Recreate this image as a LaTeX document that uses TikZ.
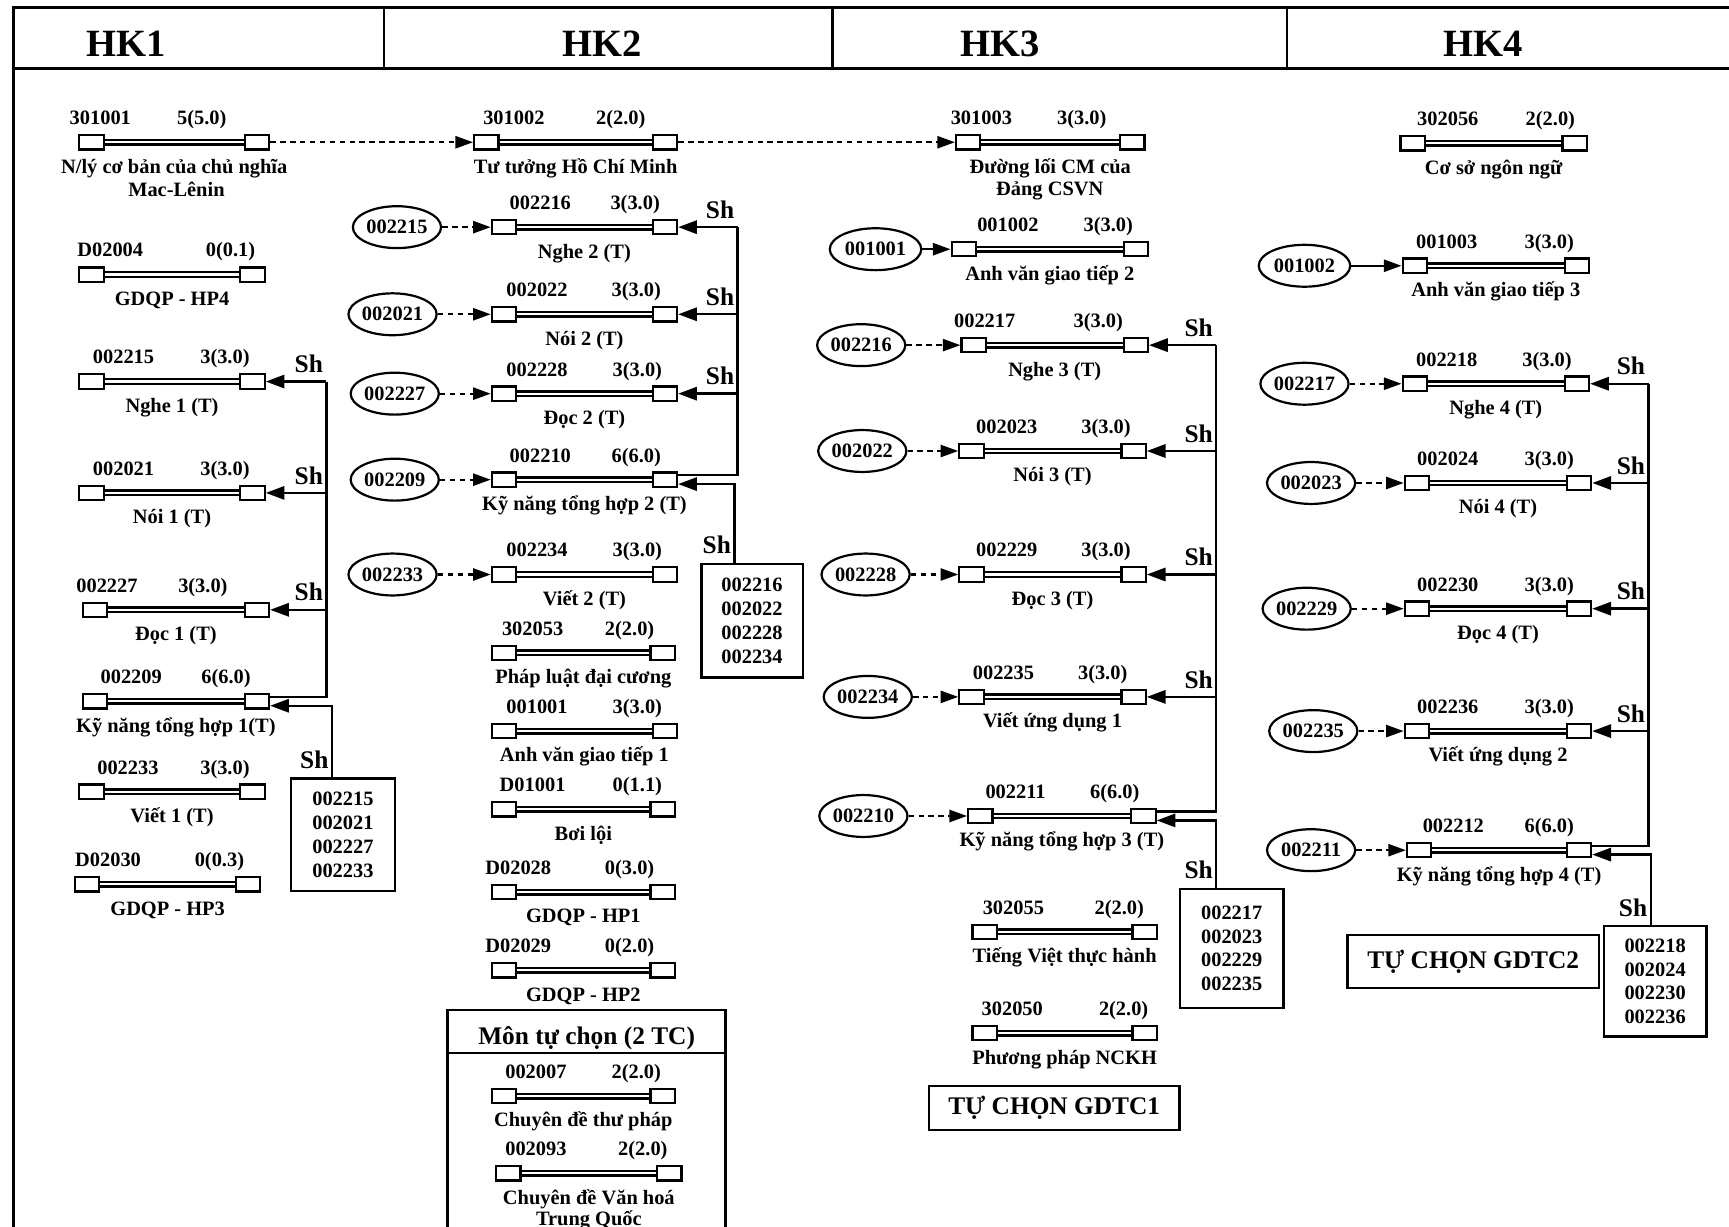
\documentclass[tikz,border=0pt]{standalone}
\usepackage{fontspec}
\setmainfont{Liberation Serif}
\usetikzlibrary{arrows.meta,shapes.geometric}

\newcommand{\ftxt}{\fontsize{18.5}{21}\selectfont\bfseries}
% mon hoc: ten, x trai, x phai, y, ma, x ma, tin chi, x tin chi, ten mon
\newcommand{\mon}[9]{%
  \node[hop] (#1-a) at (#2+11,#4) {};
  \node[hop] (#1-b) at (#3-11,#4) {};
  \draw[dline] (#1-a) -- (#1-b);
  \node[txt] (#1-k) at (#6,#4-16) {#5};
  \node[txt] (#1-c) at (#8,#4-16) {#7};
  \node[txt] (#1-t) at ({(#2+#3)/2},#4+28) {#9};
}

\begin{document}
\begin{tikzpicture}[x=1pt,y=-1pt,
    hop/.style={draw,line width=2pt,minimum width=22pt,minimum height=13pt,inner sep=0pt,fill=white},
    dline/.style={double,double distance=2pt,line width=2.1pt},
    txt/.style={font=\ftxt,anchor=base,inner sep=0pt},
    oval/.style={ellipse,draw,line width=2pt,minimum width=80pt,minimum height=38pt,inner sep=0pt,font=\ftxt},
    dasharr/.style={line width=2pt,dash pattern=on 5pt off 4pt,-{Triangle[length=16pt,width=11pt]}},
    solarr/.style={line width=2pt,-{Triangle[length=16pt,width=11pt]}},
    sharr/.style={line width=2.2pt,-{Triangle[length=17pt,width=12pt]}},
    shline/.style={line width=2.2pt},
    sh/.style={font=\fontsize{23}{25}\selectfont\bfseries,anchor=base east,inner sep=0pt,xshift=-3pt,yshift=8pt},
    shbox/.style={draw,line width=2.2pt,align=center,inner sep=0pt,font=\fontsize{18.5}{21.6}\selectfont\bfseries},
    frame/.style={line width=2.6pt},
    hk/.style={font=\fontsize{35}{40}\selectfont\bfseries,inner sep=0pt},
    chon/.style={draw,line width=2.2pt,font=\fontsize{23}{26}\selectfont\bfseries}]
  \useasboundingbox (0,0) rectangle (1568,1112);
  \clip (0,0) rectangle (1568,1112);

  % khung
  \draw[frame] (12,1130) -- (12,7) -- (1590,7);
  \draw[frame] (12,62) -- (1590,62);
  \draw[line width=2.2pt] (348,7) -- (348,62);
  \draw[line width=2.2pt] (755,7) -- (755,62);
  \draw[line width=2.2pt] (1167,7) -- (1167,62);
  \node[hk] (hk1) at (114,40) {HK1};
  \node[hk] (hk2) at (546,40) {HK2};
  \node[hk] (hk3) at (907,40) {HK3};
  \node[hk] (hk4) at (1345,40) {HK4};

  % HK1
  \mon{c301001}{72}{244}{129}{301001}{91}{5(5.0)}{183}{N/lý cơ bản của chủ nghĩa}
  \node[txt] (c301001-t2) at (160,178) {Mac-Lênin};
  \mon{cD02004}{72}{240}{249}{D02004}{100}{0(0.1)}{209}{GDQP - HP4}
  \mon{c002215}{72}{240}{346}{002215}{112}{3(3.0)}{204}{Nghe 1 (T)}
  \mon{c002021}{72}{240}{447}{002021}{112}{3(3.0)}{204}{Nói 1 (T)}
  \mon{c002227}{75}{244}{553}{002227}{97}{3(3.0)}{184}{Đọc 1 (T)}
  \mon{c002209}{75}{244}{636}{002209}{119}{6(6.0)}{205}{Kỹ năng tổng hợp 1(T)}
  \mon{c002233}{72}{240}{718}{002233}{116}{3(3.0)}{204}{Viết 1 (T)}
  \mon{cD02030}{68}{236}{802}{D02030}{98}{0(0.3)}{199}{GDQP - HP3}

  % HK2
  \mon{c301002}{430}{614}{129}{301002}{466}{2(2.0)}{563}{Tư tưởng Hồ Chí Minh}
  \mon{c002216}{446}{614}{206}{002216}{490}{3(3.0)}{576}{Nghe 2 (T)}
  \mon{c002022}{446}{614}{285}{002022}{487}{3(3.0)}{577}{Nói 2 (T)}
  \mon{c002228}{446}{614}{357}{002228}{487}{3(3.0)}{578}{Đọc 2 (T)}
  \mon{c002210}{446}{614}{435}{002210}{490}{6(6.0)}{577}{Kỹ năng tổng hợp 2 (T)}
  \mon{c002234}{446}{614}{521}{002234}{487}{3(3.0)}{578}{Viết 2 (T)}
  \mon{c302053}{446}{612}{592}{302053}{483}{2(2.0)}{571}{Pháp luật đại cương}
  \mon{c001001}{446}{614}{663}{001001}{487}{3(3.0)}{578}{Anh văn giao tiếp 1}
  \mon{cD01001}{446}{612}{734}{D01001}{483}{0(1.1)}{578}{Bơi lội}
  \mon{cD02028}{446}{612}{809}{D02028}{470}{0(3.0)}{571}{GDQP - HP1}
  \mon{cD02029}{446}{612}{880}{D02029}{470}{0(2.0)}{571}{GDQP - HP2}
  % mon tu chon
  \draw[line width=2.2pt] (406,1130) |- (658,916) -- (658,1130);
  \draw[line width=2.2pt] (406,955) -- (658,955);
  \node[txt,font=\fontsize{23}{26}\selectfont\bfseries] (mtc) at (532,947) {Môn tự chọn (2 TC)};
  \mon{c002007}{446}{612}{994}{002007}{486}{2(2.0)}{577}{Chuyên đề thư pháp}
  \mon{c002093}{450}{618}{1064}{002093}{486}{2(2.0)}{583}{Chuyên đề Văn hoá}
  \node[txt] (c002093-t2) at (534,1111) {Trung Quốc};

  \node[oval] (p002215) at (360,206) {002215};
  \node[oval] (p002021) at (356,285) {002021};
  \node[oval] (p002227) at (358,357) {002227};
  \node[oval] (p002209) at (358,435) {002209};
  \node[oval] (p002233) at (356,521) {002233};

  % HK3
  \mon{c301003}{867}{1038}{129}{301003}{890}{3(3.0)}{981}{Đường lối CM của}
  \node[txt] (c301003-t2) at (952,177) {Đảng CSVN};
  \mon{c001002}{863}{1041}{226}{001002}{914}{3(3.0)}{1005}{Anh văn giao tiếp 2}
  \mon{c002217}{872}{1041}{313}{002217}{893}{3(3.0)}{996}{Nghe 3 (T)}
  \mon{c002023}{870}{1039}{409}{002023}{913}{3(3.0)}{1003}{Nói 3 (T)}
  \mon{c002229}{870}{1039}{521}{002229}{913}{3(3.0)}{1003}{Đọc 3 (T)}
  \mon{c002235}{870}{1039}{632}{002235}{910}{3(3.0)}{1000}{Viết ứng dụng 1}
  \mon{c002211}{878}{1048}{740}{002211}{921}{6(6.0)}{1011}{Kỹ năng tổng hợp 3 (T)}
  \mon{c302055}{882}{1049}{845}{302055}{919}{2(2.0)}{1015}{Tiếng Việt thực hành}
  \mon{c302050}{882}{1049}{937}{302050}{918}{2(2.0)}{1019}{Phương pháp NCKH}
  \node[chon,minimum width=227pt,minimum height=40pt] (gdtc1) at (956,1005) {TỰ CHỌN GDTC1};

  \node[oval,minimum width=83pt] (p001001) at (794,226) {001001};
  \node[oval] (p002216) at (781,313) {002216};
  \node[oval] (p002022) at (782,409) {002022};
  \node[oval] (p002228) at (785,521) {002228};
  \node[oval] (p002234) at (787,632) {002234};
  \node[oval] (p002210) at (783,740) {002210};

  % HK4
  \mon{c302056}{1270}{1439}{130}{302056}{1313}{2(2.0)}{1406}{Cơ sở ngôn ngữ}
  \mon{c001003}{1272}{1441}{241}{001003}{1312}{3(3.0)}{1405}{Anh văn giao tiếp 3}
  \mon{c002218}{1272}{1441}{348}{002218}{1312}{3(3.0)}{1403}{Nghe 4 (T)}
  \mon{c002024}{1274}{1443}{438}{002024}{1313}{3(3.0)}{1405}{Nói 4 (T)}
  \mon{c002230}{1274}{1443}{552}{002230}{1313}{3(3.0)}{1405}{Đọc 4 (T)}
  \mon{c002236}{1274}{1443}{663}{002236}{1313}{3(3.0)}{1405}{Viết ứng dụng 2}
  \mon{c002212}{1276}{1443}{771}{002212}{1318}{6(6.0)}{1405}{Kỹ năng tổng hợp 4 (T)}
  \node[chon,minimum width=228pt,minimum height=48pt] (gdtc2) at (1336,872) {TỰ CHỌN GDTC2};

  \node[oval,minimum width=83pt] (p001002) at (1183,241) {001002};
  \node[oval] (p002217) at (1183,348) {002217};
  \node[oval] (p002023) at (1189,438) {002023};
  \node[oval] (p002229) at (1185,552) {002229};
  \node[oval] (p002235) at (1191,663) {002235};
  \node[oval] (p002211) at (1189,771) {002211};

  % mui ten tien quyet
  \draw[dasharr] (c301001-b) -- (c301002-a);
  \draw[dasharr] (c301002-b) -- (c301003-a);
  \draw[dasharr] (p002215) -- (c002216-a);
  \draw[dasharr] (p002021) -- (c002022-a);
  \draw[dasharr] (p002227) -- (c002228-a);
  \draw[dasharr] (p002209) -- (c002210-a);
  \draw[dasharr] (p002233) -- (c002234-a);
  \draw[solarr] (p001001) -- (c001002-a);
  \draw[dasharr] (p002216) -- (c002217-a);
  \draw[dasharr] (p002022) -- (c002023-a);
  \draw[dasharr] (p002228) -- (c002229-a);
  \draw[dasharr] (p002234) -- (c002235-a);
  \draw[dasharr] (p002210) -- (c002211-a);
  \draw[solarr] (p001002) -- (c001003-a);
  \draw[dasharr] (p002217) -- (c002218-a);
  \draw[dasharr] (p002023) -- (c002024-a);
  \draw[dasharr] (p002229) -- (c002230-a);
  \draw[dasharr] (p002235) -- (c002236-a);
  \draw[dasharr] (p002211) -- (c002212-a);

  % Sh HK1
  \coordinate (sh1) at (296,0);
  \draw[shline] (sh1 |- c002215-b) |- ([yshift=4pt]c002209-b.east);
  \foreach \m in {c002215,c002021,c002227}{
    \draw[sharr] (sh1 |- \m-b) -- (\m-b);
    \node[sh] (\m-sh) at (sh1 |- \m-b) {Sh};
  }
  \node[shbox,minimum width=94pt,minimum height=102pt] (sb1) at (311,757) {002215\\002021\\002227\\002233};
  \draw[sharr] ([xshift=-10pt]sb1.north) |- ([yshift=-4pt]c002209-b.east);
  \node[sh] (sb1-sh) at ([xshift=-10pt]sb1.north) {Sh};

  % Sh HK2
  \coordinate (sh2) at (669,0);
  \draw[shline] (sh2 |- c002216-b) |- ([yshift=4pt]c002210-b.east);
  \foreach \m in {c002216,c002022,c002228}{
    \draw[sharr] (sh2 |- \m-b) -- (\m-b);
    \node[sh] (\m-sh) at (sh2 |- \m-b) {Sh};
  }
  \node[shbox,minimum width=92pt,minimum height=103pt] (sb2) at (682,563) {002216\\002022\\002228\\002234};
  \draw[sharr] ([xshift=-16pt]sb2.north) |- ([yshift=-4pt]c002210-b.east);
  \node[sh] (sb2-sh) at ([xshift=-16pt]sb2.north) {Sh};

  % Sh HK3
  \coordinate (sh3) at (1103,0);
  \draw[shline] (sh3 |- c002217-b) |- ([yshift=4pt]c002211-b.east);
  \foreach \m in {c002217,c002023,c002229,c002235}{
    \draw[sharr] (sh3 |- \m-b) -- (\m-b);
    \node[sh] (\m-sh) at (sh3 |- \m-b) {Sh};
  }
  \node[shbox,minimum width=94pt,minimum height=108pt] (sb3) at (1117,860) {002217\\002023\\002229\\002235};
  \draw[sharr] ([xshift=-14pt]sb3.north) |- ([yshift=-4pt]c002211-b.east);
  \node[sh] (sb3-sh) at ([xshift=-14pt]sb3.north) {Sh};

  % Sh HK4
  \coordinate (sh4) at (1495,0);
  \draw[shline] (sh4 |- c002218-b) |- ([yshift=4pt]c002212-b.east);
  \foreach \m in {c002218,c002024,c002230,c002236}{
    \draw[sharr] (sh4 |- \m-b) -- (\m-b);
    \node[sh] (\m-sh) at (sh4 |- \m-b) {Sh};
  }
  \node[shbox,minimum width=93pt,minimum height=100pt] (sb4) at (1501,890) {002218\\002024\\002230\\002236};
  \draw[sharr] ([xshift=-4pt]sb4.north) |- ([yshift=-4pt]c002212-b.east);
  \node[sh] (sb4-sh) at ([xshift=-4pt]sb4.north) {Sh};
\end{tikzpicture}
\end{document}
